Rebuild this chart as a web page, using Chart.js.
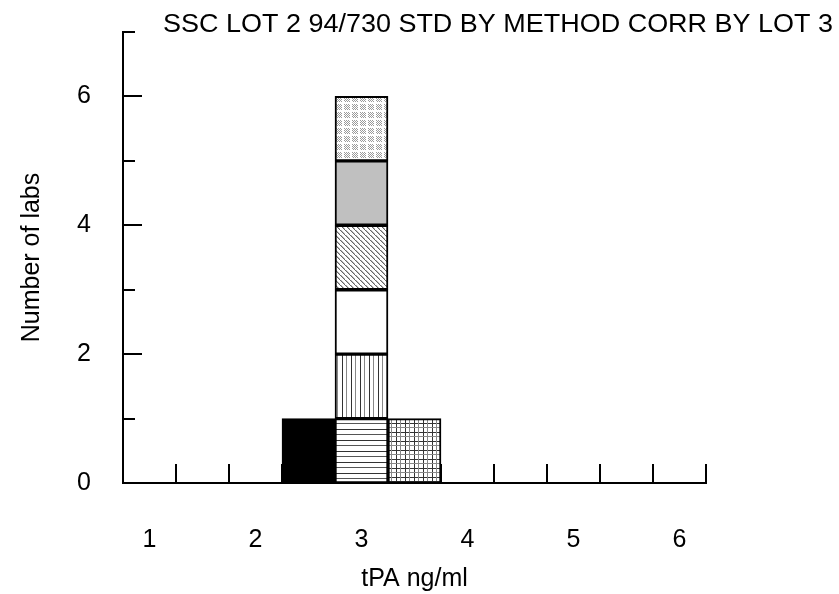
<!DOCTYPE html>
<html>
<head>
<meta charset="utf-8">
<script src="https://cdn.jsdelivr.net/npm/chart.js@4/dist/chart.umd.min.js"></script>
<style>
  html, body { margin: 0; padding: 0; background: #ffffff; }
  #wrap { width: 839px; height: 594px; }
</style>
</head>
<body>
<div id="wrap"><canvas id="c" width="839" height="594"></canvas></div>
<script>
// Histogram bins (centres, ng/ml), each 0.5 wide
const bins = ['1', '1.5', '2', '2.5', '3', '3.5', '4', '4.5', '5', '5.5', '6'];
// Bin centres that carry a printed tick label
const tickLabels = ['1', '2', '3', '4', '5', '6'];

// One series per laboratory: count of results falling in each bin
const labSolid      = [null, null, null, 1, null, null, null, null, null, null, null];
const labHorizontal = [null, null, null, null, 1, null, null, null, null, null, null];
const labGrid       = [null, null, null, null, null, 1, null, null, null, null, null];
const labVertical   = [null, null, null, null, 1, null, null, null, null, null, null];
const labOpen       = [null, null, null, null, 1, null, null, null, null, null, null];
const labDiagonal   = [null, null, null, null, 1, null, null, null, null, null, null];
const labGrey       = [null, null, null, null, 1, null, null, null, null, null, null];
const labStipple    = [null, null, null, null, 1, null, null, null, null, null, null];

const titleText = 'SSC LOT 2 94/730 STD BY METHOD CORR BY LOT 3';
const FONT = '"Liberation Sans", Arial, sans-serif';

const canvas = document.getElementById('c');
const ctx = canvas.getContext('2d');

// Small repeating fills for the hatched bars
function makePattern(w, h, paint) {
  const t = document.createElement('canvas');
  t.width = w; t.height = h;
  const g = t.getContext('2d');
  g.fillStyle = '#ffffff';
  g.fillRect(0, 0, w, h);
  paint(g);
  return ctx.createPattern(t, 'repeat');
}

const fillHorizontal = makePattern(4, 11, g => {
  g.fillStyle = '#333333'; g.fillRect(0, 0, 4, 1);
  g.fillStyle = '#555555'; g.fillRect(0, 5, 4, 1);
});
const fillVertical = makePattern(9, 4, g => {
  g.fillStyle = '#333333'; g.fillRect(0, 0, 1, 4);
  g.fillStyle = '#888888'; g.fillRect(4, 0, 1, 4);
});
const fillGrid = makePattern(9, 9, g => {
  g.fillStyle = '#333333'; g.fillRect(0, 0, 1, 9); g.fillRect(0, 0, 9, 1);
  g.fillStyle = '#888888'; g.fillRect(4, 0, 1, 9); g.fillRect(0, 4, 9, 1);
});
const fillDiagonal = makePattern(5, 5, g => {
  g.fillStyle = '#666666';
  for (let i = 0; i < 5; i++) g.fillRect(i, i, 1, 1);
  g.fillStyle = '#bbbbbb';
  for (let i = 0; i < 4; i++) g.fillRect(i + 1, i, 1, 1);
});
const fillStipple = makePattern(8, 8, g => {
  g.fillStyle = '#9a9a9a';
  for (let y = 0; y < 6; y++)
    for (let x = 0; x < 6; x++)
      if ((x + y) % 2 === 0) g.fillRect(x, y, 1, 1);
});

function series(data, fill) {
  return {
    data: data,
    backgroundColor: fill,
    borderColor: '#000000',
    borderWidth: 2,
    borderSkipped: false,
    categoryPercentage: 1.0,
    barPercentage: 1.0
  };
}

// Inward tick marks on both axes (drawn under the bars)
const axisTicks = {
  id: 'axisTicks',
  beforeDatasetsDraw(chart) {
    const { ctx: c, scales: { x, y } } = chart;
    const step = x.getPixelForValue(1) - x.getPixelForValue(0);
    c.save();
    c.strokeStyle = '#000000';
    c.lineWidth = 2;
    c.beginPath();
    for (let i = 0; i < bins.length; i++) {
      const px = Math.round(x.getPixelForValue(i) + step / 2);
      c.moveTo(px, y.bottom);
      c.lineTo(px, y.bottom - 19);
    }
    for (let v = 1; v <= 7; v++) {
      const py = Math.round(y.getPixelForValue(v));
      const len = v % 2 === 0 ? 19 : 12;
      c.moveTo(x.left, py);
      c.lineTo(x.left + len, py);
    }
    c.stroke();
    c.restore();
  }
};

// Heading across the top, fitted to its line
const heading = {
  id: 'heading',
  afterDraw(chart) {
    const c = chart.ctx;
    c.save();
    c.font = '26px ' + FONT;
    c.fillStyle = '#000000';
    c.textBaseline = 'middle';
    c.textAlign = 'left';
    const w = c.measureText(titleText).width;
    c.translate(163, 25);
    c.scale(670 / w, 1);
    c.fillText(titleText, 0, 0);
    c.restore();
  }
};

new Chart(ctx, {
  type: 'bar',
  data: {
    labels: bins,
    datasets: [
      series(labSolid, '#000000'),
      series(labHorizontal, fillHorizontal),
      series(labGrid, fillGrid),
      series(labVertical, fillVertical),
      series(labOpen, '#ffffff'),
      series(labDiagonal, fillDiagonal),
      series(labGrey, '#c0c0c0'),
      series(labStipple, fillStipple)
    ]
  },
  options: {
    responsive: false,
    animation: false,
    events: [],
    devicePixelRatio: 1,
    layout: { padding: { top: 32, right: 133, bottom: 0, left: 0 } },
    plugins: {
      legend: { display: false },
      tooltip: { enabled: false },
      title: { display: false }
    },
    scales: {
      x: {
        type: 'category',
        stacked: true,
        offset: true,
        grid: { display: false, drawTicks: false },
        border: { display: true, color: '#000000', width: 2 },
        ticks: {
          autoSkip: false,
          maxRotation: 0,
          padding: 42,
          color: '#000000',
          font: { family: FONT, size: 25 },
          callback: (v, i) => tickLabels.includes(bins[i]) ? bins[i] : ''
        },
        title: {
          display: true,
          text: 'tPA ng/ml',
          color: '#000000',
          font: { family: FONT, size: 25 },
          padding: { top: 0, bottom: 0 }
        },
        afterFit: s => { s.height = 111; s.paddingLeft = 0; s.paddingRight = 0; }
      },
      y: {
        stacked: true,
        min: 0,
        max: 7,
        grid: { display: false, drawTicks: false },
        border: { display: true, color: '#000000', width: 2 },
        ticks: {
          stepSize: 1,
          padding: 32,
          color: '#000000',
          font: { family: FONT, size: 25 },
          callback: v => (v % 2 === 0 ? String(v) : '')
        },
        title: {
          display: true,
          text: 'Number of labs',
          color: '#000000',
          font: { family: FONT, size: 25 },
          padding: { top: 17, bottom: 0 }
        },
        afterFit: s => { s.width = 123; s.paddingTop = 0; s.paddingBottom = 0; }
      }
    }
  },
  plugins: [axisTicks, heading]
});
</script>
</body>
</html>
